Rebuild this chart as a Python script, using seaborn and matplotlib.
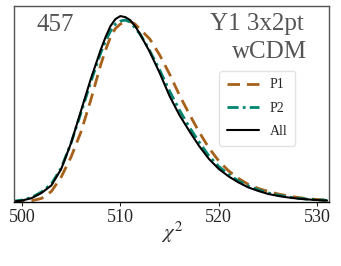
import matplotlib
matplotlib.use("Agg")
import matplotlib.pyplot as plt
import seaborn as sns
import pandas as pd

# chi^2 grid and curve heights
chi2 = [499, 500, 501, 502, 503, 504, 505, 506, 507, 508,
        508.5, 509, 509.5, 510, 510.5, 511, 511.5, 512, 512.5,
        513, 514, 515, 516, 517, 518, 519, 520, 521, 522, 523,
        524, 525, 526, 527, 528, 529, 530, 531]
p1 = [0.00005, 0.0002, 0.0006, 0.00175, 0.00525, 0.0125, 0.0225, 0.035, 0.051, 0.0685,
      0.076, 0.0825, 0.0868, 0.089, 0.0903, 0.0903, 0.089, 0.0865, 0.084,
      0.0815, 0.0735, 0.064, 0.0535, 0.044, 0.035, 0.027, 0.0205, 0.0155, 0.01175, 0.00875,
      0.00675, 0.00525, 0.004, 0.003, 0.00225, 0.0016, 0.0012, 0.0009]
p2 = [0.00025, 0.0009, 0.00225, 0.005, 0.009, 0.017, 0.0295, 0.0445, 0.06, 0.0745,
      0.0805, 0.0855, 0.089, 0.0905, 0.091, 0.09, 0.087, 0.084, 0.080,
      0.0755, 0.066, 0.0555, 0.046, 0.0375, 0.03, 0.023, 0.01775, 0.01375, 0.0105, 0.008,
      0.006, 0.0045, 0.0034, 0.0025, 0.00185, 0.00135, 0.001, 0.00075]
all_ = [0.00015, 0.00065, 0.0019, 0.0045, 0.00825, 0.0165, 0.0295, 0.0455, 0.0615, 0.076,
        0.0825, 0.088, 0.0915, 0.093, 0.0925, 0.091, 0.088, 0.084, 0.0795,
        0.075, 0.0645, 0.053, 0.0435, 0.0355, 0.028, 0.0215, 0.0165, 0.01275, 0.00975, 0.00725,
        0.0055, 0.004, 0.003, 0.00225, 0.00165, 0.00125, 0.0009, 0.00065]

sample_id = "457"
title_lines = ["Y1 3x2pt", "wCDM"]
xticks = [500, 510, 520, 530]

df = pd.DataFrame({"chi2": chi2, "P1": p1, "P2": p2, "All": all_})

sns.set_style("white")
plt.rcParams["font.family"] = ["Liberation Serif", "DejaVu Serif"]
plt.rcParams["mathtext.fontset"] = "stix"

fig = plt.figure(figsize=(3.41, 2.66), dpi=100)
ax = fig.add_axes([0.041, 0.241, 0.924, 0.736])

sns.lineplot(data=df, x="chi2", y="P1", ax=ax, color="#a6611a", lw=2,
             linestyle=(0, (4.5, 2.5)), label="P1")
sns.lineplot(data=df, x="chi2", y="P2", ax=ax, color="#018571", lw=2,
             linestyle=(0, (4, 1.5, 1, 1.5)), label="P2")
sns.lineplot(data=df, x="chi2", y="All", ax=ax, color="black", lw=1.5, label="All")

ax.set_xlim(499.2, 531.2)
ax.set_ylim(0, 0.098)
ax.set_xticks(xticks)
ax.set_yticks([])
ax.tick_params(axis="x", labelsize=13, length=3, width=0.8, direction="out", pad=2,
               bottom=True)
ax.set_xlabel(r"$\chi^2$", fontsize=15)
ax.xaxis.set_label_coords(0.5, -0.09)
ax.set_ylabel("")

for side in ["left", "right", "top"]:
    ax.spines[side].set_color("#555555")
    ax.spines[side].set_linewidth(1.0)
ax.spines["bottom"].set_color("black")
ax.spines["bottom"].set_linewidth(1.0)

ax.text(0.07, 0.905, sample_id, transform=ax.transAxes, fontsize=18,
        color="#555555", va="center", ha="left")
ax.text(0.92, 0.91, title_lines[0], transform=ax.transAxes, fontsize=18,
        color="#555555", va="center", ha="right")
ax.text(0.93, 0.765, title_lines[1], transform=ax.transAxes, fontsize=18,
        color="#555555", va="center", ha="right")

leg = ax.legend(loc="upper right", bbox_to_anchor=(0.915, 0.705), fontsize=10,
                frameon=True, handlelength=2.3, borderpad=0.55, labelspacing=0.75,
                handletextpad=0.8)
leg.get_frame().set_edgecolor("#dddddd")

fig.savefig("out.png", dpi=100)
